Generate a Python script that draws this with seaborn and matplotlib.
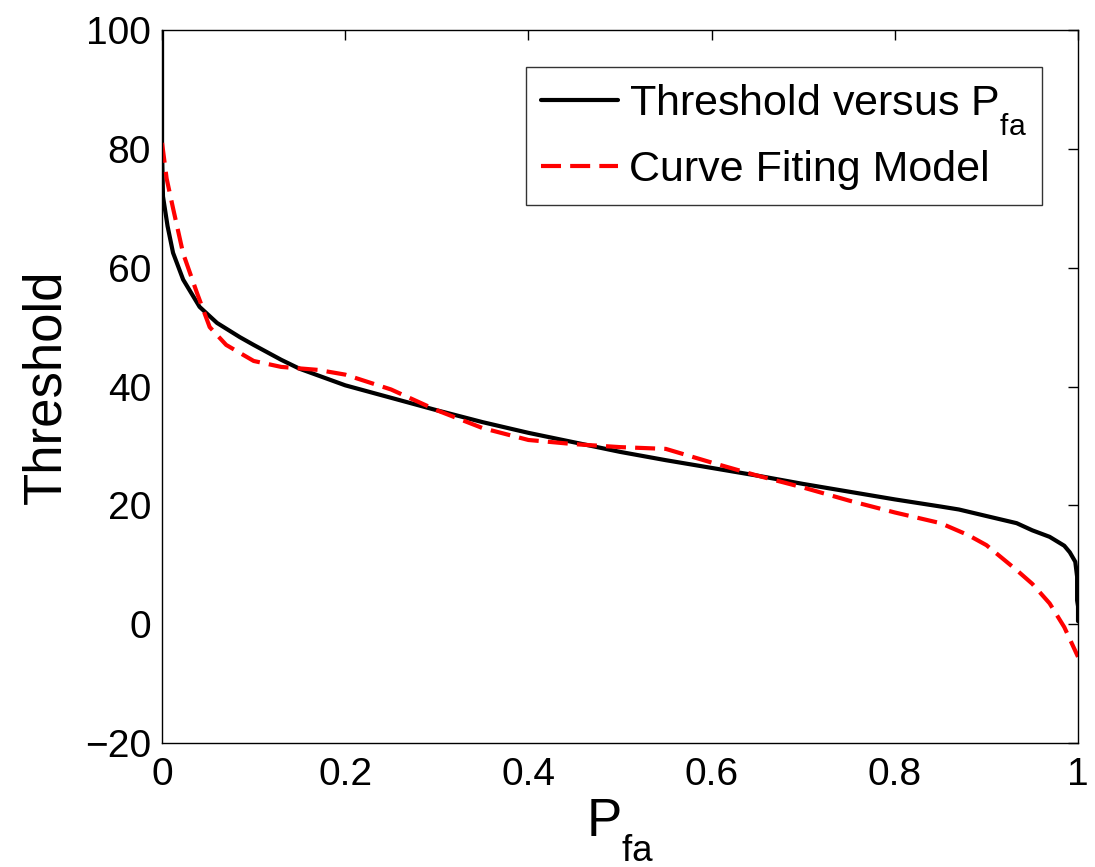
"""
Umbral vs probabilidad de falsa alarma, con el modelo de ajuste de curva
"""
import matplotlib
matplotlib.use('Agg')
import matplotlib.pyplot as plt
import matplotlib._mathtext as mathtext
import seaborn as sns
import numpy as np

# Datos
pfa_thr = [0, 0, 0.001, 0.003, 0.006, 0.012, 0.023, 0.041, 0.06, 0.085, 0.1,
           0.13, 0.15, 0.2, 0.25, 0.3, 0.35, 0.4, 0.45, 0.5, 0.55, 0.6, 0.65,
           0.7, 0.75, 0.8, 0.85, 0.87, 0.9, 0.933, 0.95, 0.969, 0.985, 0.991,
           0.997, 0.999, 0.999, 1.0, 1.0]
threshold = [100, 80, 72, 70, 67, 62.5, 58, 53.4, 50.7, 48.3, 47,
             44.5, 43, 40.2, 38.1, 36, 34, 32.2, 30.6, 29, 27.6, 26.3, 25,
             23.6, 22.3, 21, 19.8, 19.3, 18.2, 17.0, 15.8, 14.7, 13.2, 12.1,
             10.5, 8, 4, 3, 0.5]

pfa_fit = [0, 0.005, 0.012, 0.023, 0.038, 0.052, 0.07, 0.1, 0.13, 0.17, 0.2,
           0.25, 0.3, 0.35, 0.4, 0.45, 0.5, 0.55, 0.6, 0.65, 0.7, 0.75, 0.8,
           0.85, 0.88, 0.9, 0.933, 0.95, 0.969, 0.985, 1.0]
fit_model = [81, 75, 70, 62.4, 55.8, 50, 47, 44.3, 43.3, 42.8, 42,
             39.5, 36, 33, 31, 30.3, 29.8, 29.5, 27.2, 25, 23, 20.8, 18.8,
             17, 15, 13.3, 9.1, 6.8, 3.5, -0.5, -5.5]

xticks = [0, 0.2, 0.4, 0.6, 0.8, 1]
xticklabels = ['0', '0.2', '0.4', '0.6', '0.8', '1']
yticks = [-20, 0, 20, 40, 60, 80, 100]

sns.set_style("white")
plt.rcParams['font.family'] = ['Liberation Sans', 'DejaVu Sans']
plt.rcParams['mathtext.fontset'] = 'custom'
plt.rcParams['mathtext.rm'] = 'Liberation Sans'
plt.rcParams['mathtext.it'] = 'Liberation Sans'
plt.rcParams['text.color'] = 'black'
plt.rcParams['axes.labelcolor'] = 'black'
plt.rcParams['xtick.color'] = 'black'
plt.rcParams['ytick.color'] = 'black'
# subindices mas bajos, estilo MATLAB
mathtext.FontConstantsBase.sub1 = 0.9

fig = plt.figure(figsize=(10.95, 8.67), dpi=100)
ax = fig.add_axes([0.148, 0.143, 0.8365, 0.8224])

sns.lineplot(x=pfa_thr, y=threshold, ax=ax, color='black', linewidth=3,
             estimator=None, sort=False,
             label=r'Threshold versus P$_{\mathregular{fa}}$')
sns.lineplot(x=pfa_fit, y=fit_model, ax=ax, color='red', linewidth=3,
             estimator=None, sort=False, label='Curve Fiting Model')
ax.lines[1].set_dashes([4.8, 2.2])

ax.set_xlim(0, 1)
ax.set_ylim(-20, 100)
ax.set_xticks(xticks)
ax.set_xticklabels(xticklabels)
ax.set_yticks(yticks)
ax.tick_params(direction='in', length=7, width=1, labelsize=28,
               top=True, right=True)
ax.tick_params(axis='x', pad=10)
ax.tick_params(axis='y', pad=8)
for s in ax.spines.values():
    s.set_color('black')
    s.set_linewidth(1)

ax.set_xlabel(r'P$_{\mathregular{fa}}$', fontsize=38, labelpad=3)
ax.set_ylabel('Threshold', fontsize=38, labelpad=10)

leg = ax.legend(loc='upper right', bbox_to_anchor=(0.9607, 0.948),
                fontsize=31, frameon=True, fancybox=False,
                handlelength=1.8, handletextpad=0.25, borderpad=0.35,
                labelspacing=0.28, borderaxespad=0)
leg.get_frame().set_edgecolor('black')
leg.get_frame().set_linewidth(1)
for h in leg.get_lines():
    h.set_linewidth(3)

plt.savefig('out.png', dpi=100)
plt.close()
